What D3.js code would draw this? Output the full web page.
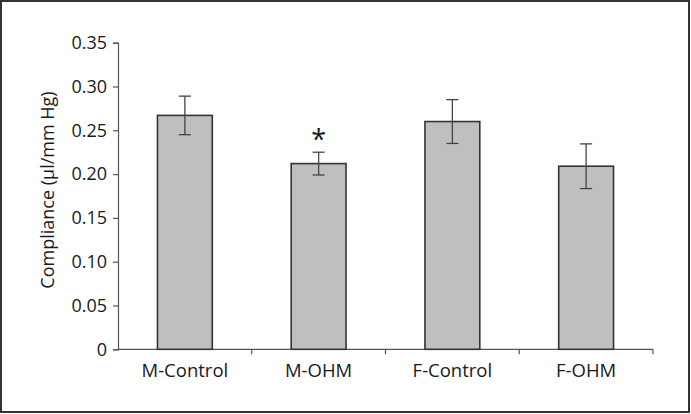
<!DOCTYPE html>
<html><head><meta charset="utf-8">
<script src="https://cdn.jsdelivr.net/npm/d3@7"></script>
<style>body{margin:0;background:#fff}svg{display:block}text{font-family:"Open Sans",sans-serif;fill:#1a1a1a}</style>
</head><body><svg id="c" width="691" height="414"></svg>
<script>
const categories = ["M-Control","M-OHM","F-Control","F-OHM"];
const means = [0.267, 0.212, 0.260, 0.209];
const errors = [0.022, 0.013, 0.025, 0.0255];
const yTicks = [0,0.05,0.10,0.15,0.20,0.25,0.30,0.35];
const yTickLabels = ["0","0.05","0.10","0.15","0.20","0.25","0.30","0.35"];
const significant = [false,true,false,false];

const svg = d3.select("#c");
svg.append("rect").attr("x",1).attr("y",1).attr("width",688).attr("height",411)
  .attr("fill","none").attr("stroke","#333").attr("stroke-width",2);

const x0=118, x1=653, y0=349.3, y1=42.7;
const x = d3.scaleBand().domain(categories).range([x0,x1]).paddingInner(0.59).paddingOuter(0.295);
const y = d3.scaleLinear().domain([0,0.35]).range([y0,y1]);

// y axis
const ya = svg.append("g").attr("transform",`translate(${x0},0)`)
  .call(d3.axisLeft(y).tickValues(yTicks).tickFormat((d,i)=>yTickLabels[i]).tickSize(5).tickPadding(6));
ya.select(".domain").attr("stroke","#555").attr("stroke-width",1.2);
ya.selectAll(".tick line").attr("stroke","#555").attr("stroke-width",1.2);
ya.selectAll(".tick text").attr("font-size",18).attr("font-family","Open Sans").attr("fill","#1a1a1a");

// x axis with ticks at band boundaries
const xa = svg.append("g").attr("transform",`translate(0,${y0})`);
xa.append("line").attr("x1",x0).attr("x2",x1).attr("stroke","#555").attr("stroke-width",1.2);
const bounds = d3.range(1,categories.length+1).map(i=>x0+i*(x1-x0)/categories.length);
xa.selectAll("line.t").data(bounds).join("line").attr("class","t")
  .attr("x1",d=>d).attr("x2",d=>d).attr("y1",0).attr("y2",5).attr("stroke","#555").attr("stroke-width",1.2);

// bars
svg.selectAll("rect.bar").data(categories).join("rect").attr("class","bar")
  .attr("x",d=>x(d)).attr("width",x.bandwidth())
  .attr("y",(d,i)=>y(means[i])).attr("height",(d,i)=>y0-y(means[i]))
  .attr("fill","#bfbfbf").attr("stroke","#333").attr("stroke-width",1.6);

// error bars
const eg = svg.selectAll("g.err").data(categories).join("g").attr("class","err");
eg.append("line").attr("x1",d=>x(d)+x.bandwidth()/2).attr("x2",d=>x(d)+x.bandwidth()/2)
  .attr("y1",(d,i)=>y(means[i]+errors[i])).attr("y2",(d,i)=>y(means[i]-errors[i]))
  .attr("stroke","#444").attr("stroke-width",1.3);
[1,-1].forEach(s=>{
  eg.append("line").attr("x1",d=>x(d)+x.bandwidth()/2-6).attr("x2",d=>x(d)+x.bandwidth()/2+6)
    .attr("y1",(d,i)=>y(means[i]+s*errors[i])).attr("y2",(d,i)=>y(means[i]+s*errors[i]))
    .attr("stroke","#444").attr("stroke-width",1.3);
});

// significance
svg.selectAll("text.sig").data(categories.filter((d,i)=>significant[i])).join("text").attr("class","sig")
  .attr("x",d=>x(d)+x.bandwidth()/2).attr("y",d=>{const i=categories.indexOf(d);return y(means[i]+errors[i])-3;})
  .attr("text-anchor","middle").attr("font-size",27).text("*");

// x labels
svg.selectAll("text.xl").data(categories).join("text").attr("class","xl")
  .attr("x",d=>x(d)+x.bandwidth()/2).attr("y",377).attr("text-anchor","middle")
  .attr("font-size",18.5).text(d=>d);

// y label
svg.append("text").attr("transform","translate(54,190) rotate(-90)").attr("text-anchor","middle")
  .attr("font-size",18).text("Compliance (µl/mm Hg)");
</script></body></html>
